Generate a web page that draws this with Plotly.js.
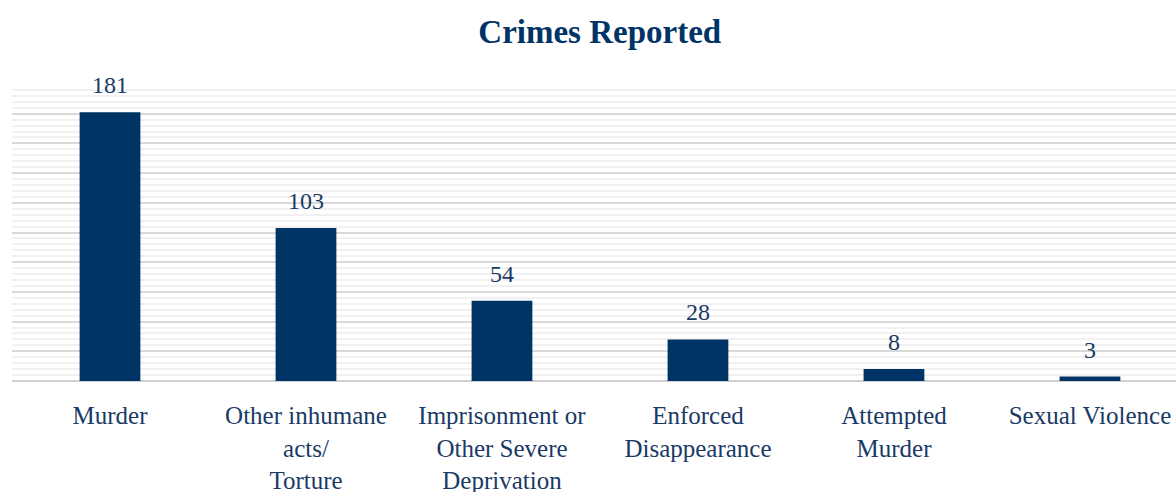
<!DOCTYPE html>
<html>
<head>
<meta charset="utf-8">
<script src="https://cdn.plot.ly/plotly-3.0.1.min.js"></script>
<style>html,body{margin:0;padding:0;background:#fff;}#chart{width:1176px;height:492px;}</style>
</head>
<body>
<div id="chart"></div>
<script>
const categories = ["Murder", "Other inhumane<br>acts/<br>Torture", "Imprisonment or<br>Other Severe<br>Deprivation", "Enforced<br>Disappearance", "Attempted<br>Murder", "Sexual Violence"];
const values = [181, 103, 54, 28, 8, 3];
const titleText = "Crimes Reported";

const navy = "#003366";
const textColor = "#1a3a66";
const fontFam = "Liberation Serif, Times New Roman, serif";

const xIdx = categories.map((c, i) => i);

const trace = {
  type: "bar",
  x: xIdx,
  y: values,
  width: 0.31,
  marker: {color: navy},
  hoverinfo: "none"
};

const annotations = values.map((v, i) => ({
  x: i, y: v, xref: "x", yref: "y",
  text: String(v), showarrow: false,
  yanchor: "bottom", yshift: 12,
  font: {family: fontFam, size: 24, color: textColor}
}));

const layout = {
  width: 1176, height: 492,
  margin: {l: 12, r: 0, t: 84, b: 111},
  paper_bgcolor: "#fff", plot_bgcolor: "#fff",
  showlegend: false,
  title: {text: "<b>" + titleText + "</b>", x: 0.51, xanchor: "center", y: 0.937, yanchor: "middle", yref: "container",
    font: {family: fontFam, size: 33, color: navy}},
  xaxis: {
    range: [-0.5, 5.439],
    tickvals: xIdx, ticktext: categories,
    showgrid: false, zeroline: false,
    showline: false, ticks: "",
    ticklabelstandoff: 17,
    tickfont: {family: fontFam, size: 25, color: textColor},
    automargin: false
  },
  yaxis: {
    range: [0, 200], dtick: 20,
    showticklabels: false, ticks: "",
    showgrid: true, gridcolor: "#d9d9d9", gridwidth: 2,
    zeroline: true, zerolinecolor: "#d0d0d0", zerolinewidth: 2,
    minor: {dtick: 4, showgrid: true, gridcolor: "#f1f1f1", gridwidth: 2},
    automargin: false
  },
  annotations: annotations
};

Plotly.newPlot("chart", [trace], layout, {displayModeBar: false, staticPlot: true});
</script>
</body>
</html>
